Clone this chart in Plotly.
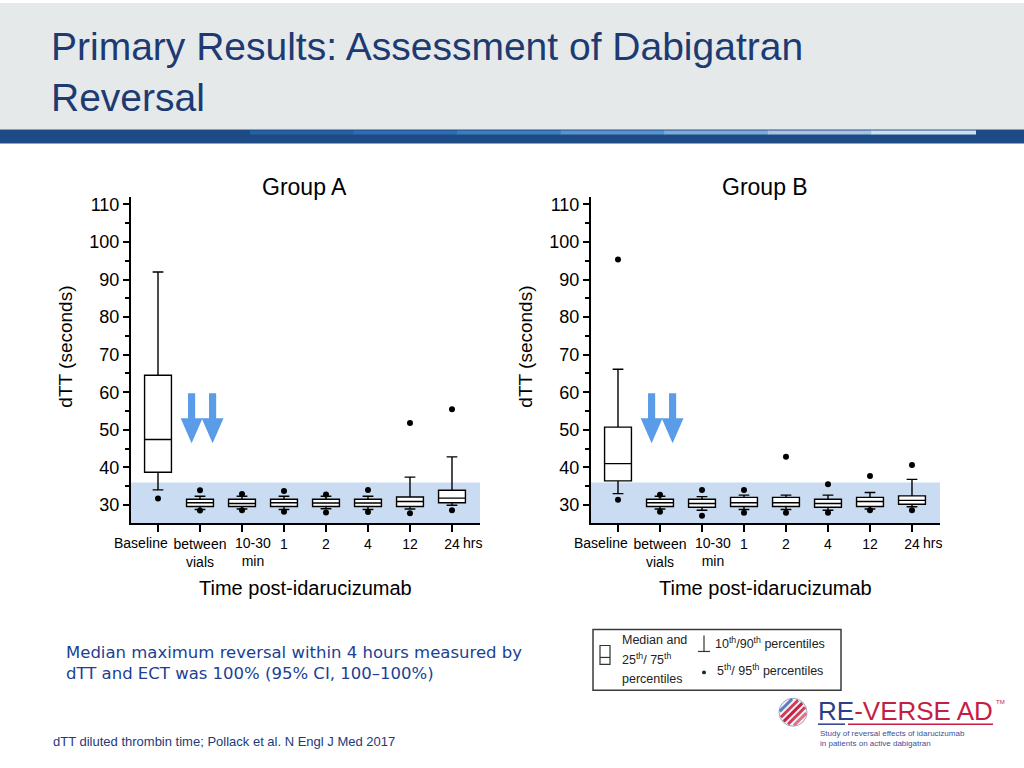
import plotly.graph_objects as go

W, H = 1024, 768

# categories along the time axis
CATEGORIES = ["Baseline", "between<br>vials", "10-30<br>min", "1", "2", "4", "12", "24"]
POS = list(range(len(CATEGORIES)))
# labels the source draws off-centre from their tick (pixel shift)
LABEL_SHIFT = {0: -17, 2: 11}

# Group A (dTT seconds)
A_P10 = [34.0, 28.8, 28.9, 28.8, 29.0, 28.8, 28.9, 29.9]
A_Q1 = [38.7, 29.6, 29.6, 29.6, 29.6, 29.6, 29.6, 30.6]
A_MED = [47.4, 30.6, 30.4, 30.6, 30.5, 30.5, 30.9, 31.8]
A_Q3 = [64.5, 31.5, 31.5, 31.5, 31.5, 31.5, 32.1, 33.9]
A_P90 = [92.0, 32.3, 32.3, 32.3, 32.3, 32.3, 37.4, 42.8]
A_P5 = [31.7, 28.5, 28.6, 28.2, 28.0, 28.1, 27.8, 28.6]
A_P95 = [112.7, 33.9, 32.9, 33.7, 32.8, 34.0, 51.8, 55.5]

# Group B (dTT seconds)
B_P10 = [33.0, 28.9, 28.6, 28.8, 28.8, 28.6, 28.9, 29.5]
B_Q1 = [36.4, 29.6, 29.4, 29.6, 29.6, 29.4, 29.6, 30.2]
B_MED = [41.0, 30.6, 30.4, 30.6, 30.6, 30.4, 30.9, 31.2]
B_Q3 = [50.7, 31.5, 31.5, 32.0, 32.0, 31.5, 32.0, 32.4]
B_P90 = [66.1, 32.3, 32.2, 32.6, 32.6, 32.6, 33.3, 36.8]
B_P5 = [31.4, 28.2, 27.1, 27.9, 27.9, 27.9, 28.6, 28.6]
B_P95 = [95.3, 32.7, 34.0, 34.0, 42.8, 35.5, 37.7, 40.6]

NORMAL_UPPER = 36  # shaded normal range upper limit
ARROW_X = [0.8, 1.3]

FONT = "Liberation Sans, Arial, sans-serif"
NAVY = "#1d3a72"
ARROW_BLUE = "#5b9ce8"
BAND = "#c9dcf1"


def px(x):
    return x / W


def py(y):
    return 1 - y / H


def label(text, x, y, size, color="black", family=FONT, xanchor="center", yanchor="middle", **kw):
    return dict(text=text, x=px(x), y=py(y), xref="paper", yref="paper",
                xanchor=xanchor, yanchor=yanchor, showarrow=False,
                font=dict(family=family, size=size, color=color), **kw)


fig = go.Figure()
shapes = []
annotations = []

groups = [
    ("Group A", "x", "y", (131, 480), A_P10, A_Q1, A_MED, A_Q3, A_P90, A_P5, A_P95),
    ("Group B", "x2", "y2", (591, 940), B_P10, B_Q1, B_MED, B_Q3, B_P90, B_P5, B_P95),
]

for name, xa, ya, (left, right), p10, q1, med, q3, p90, p5, p95 in groups:
    fig.add_trace(go.Box(
        x=POS, q1=q1, median=med, q3=q3, lowerfence=p10, upperfence=p90,
        xaxis=xa, yaxis=ya, width=0.64, whiskerwidth=0.4,
        fillcolor="white", line=dict(color="black", width=1.4),
        boxpoints=False, showlegend=False, hoverinfo="skip",
    ))
    fig.add_trace(go.Scatter(
        x=POS + POS, y=p95 + p5, mode="markers", xaxis=xa, yaxis=ya,
        marker=dict(color="black", size=6), cliponaxis=False,
        showlegend=False, hoverinfo="skip",
    ))
    # normal range band
    shapes.append(dict(
        type="rect", xref=f"{xa} domain", yref=ya, x0=0, x1=1, y0=25.2, y1=NORMAL_UPPER,
        fillcolor=BAND, line_width=0, layer="below",
    ))
    # reversal arrows
    for ax in ARROW_X:
        path = (f"M {ax - 0.085},59.7 L {ax + 0.085},59.7 L {ax + 0.085},53.1 "
                f"L {ax + 0.26},53.1 L {ax},46.4 L {ax - 0.26},53.1 L {ax - 0.085},53.1 Z")
        shapes.append(dict(type="path", xref=xa, yref=ya, path=path,
                           fillcolor=ARROW_BLUE, line_width=0))
    # off-centre category labels
    for i, shift in LABEL_SHIFT.items():
        annotations.append(dict(
            text=CATEGORIES[i], x=POS[i], y=py(532), xref=xa, yref="paper", xshift=shift,
            xanchor="center", yanchor="top", showarrow=False,
            font=dict(family=FONT, size=14, color="black"),
        ))
    centre = (left + right) / 2
    annotations += [
        label(name, centre - 1, 185, 23),
        label("Time post-idarucizumab", centre, 587, 20),
        label("dTT (seconds)", left - 65, 345, 19, textangle=-90),
        dict(text="hrs", x=7.21, y=py(542), xref=xa, yref="paper", xanchor="left",
             yanchor="middle", showarrow=False, font=dict(family=FONT, size=14, color="black")),
    ]

tick_text = ["" if i in LABEL_SHIFT else c for i, c in enumerate(CATEGORIES)]
xaxis_style = dict(
    range=[-0.643, 7.667], tickvals=POS, ticktext=tick_text, tickangle=0, showline=True,
    linecolor="black", linewidth=2, ticks="outside", ticklen=7, tickwidth=2,
    tickcolor="black", showgrid=False, zeroline=False,
    tickfont=dict(family=FONT, size=14, color="black"),
)
yaxis_style = dict(
    range=[25.2, 111.9], tickvals=list(range(30, 111, 10)), showline=True,
    linecolor="black", linewidth=2, ticks="outside", ticklen=6, tickwidth=2,
    tickcolor="black", showgrid=False, zeroline=False,
    minor=dict(dtick=5, tick0=0, ticks="outside", ticklen=4, tickwidth=1.5, tickcolor="black"),
    tickfont=dict(family=FONT, size=18, color="black"),
)

# header
shapes += [
    dict(type="rect", xref="paper", yref="paper", x0=0, x1=1, y0=py(127), y1=1,
         fillcolor="#e5e9ea", line_width=0, layer="below"),
    dict(type="rect", xref="paper", yref="paper", x0=0, x1=1, y0=py(141), y1=py(127),
         fillcolor="#1e4a86", line_width=0),
]
grad = ["#2460a3", "#2d6cb0", "#3b7dbe", "#5a93cb", "#7eaad6", "#a6c4e2", "#cddff0"]
seg = (975 - 250) / len(grad)
for i, col in enumerate(grad):
    shapes.append(dict(type="rect", xref="paper", yref="paper",
                       x0=px(250 + i * seg), x1=px(250 + (i + 1) * seg + 1),
                       y0=py(132), y1=py(128), fillcolor=col, line_width=0))

annotations.append(label(
    "Primary Results: Assessment of Dabigatran<br>Reversal", 49, 20, 39, color=NAVY,
    family="Liberation Sans Narrow, Arial Narrow, Liberation Sans",
    xanchor="left", yanchor="top", align="left",
))

# body text and footnote
annotations += [
    label("Median maximum reversal within 4 hours measured by<br>dTT and ECT was 100% (95% CI, 100–100%)",
          64, 640, 16.5, color="#203f93", family="DejaVu Sans, Verdana, sans-serif",
          xanchor="left", yanchor="top", align="left"),
    label("dTT diluted thrombin time; Pollack et al. N Engl J Med 2017", 51, 741, 13,
          color="#1d3a7a", xanchor="left"),
]

# legend box
shapes += [
    dict(type="rect", xref="paper", yref="paper", x0=px(593), x1=px(841), y0=py(690), y1=py(629),
         line=dict(color="#3a3a3a", width=1.5), fillcolor="white"),
    dict(type="rect", xref="paper", yref="paper", x0=px(600), x1=px(610), y0=py(664), y1=py(645),
         line=dict(color="#333", width=1.2)),
    dict(type="line", xref="paper", yref="paper", x0=px(600), x1=px(610), y0=py(657), y1=py(657),
         line=dict(color="#333", width=1.2)),
    dict(type="line", xref="paper", yref="paper", x0=px(704), x1=px(704), y0=py(651), y1=py(635),
         line=dict(color="#333", width=1.2)),
    dict(type="line", xref="paper", yref="paper", x0=px(698), x1=px(710), y0=py(651), y1=py(651),
         line=dict(color="#333", width=1.2)),
    dict(type="circle", xref="paper", yref="paper", x0=px(702), x1=px(706), y0=py(674), y1=py(670),
         fillcolor="#222", line_width=0),
]
for txt, x, y in [
    ("Median and", 620, 639),
    ("25<sup>th</sup>/ 75<sup>th</sup>", 620, 659),
    ("percentiles", 620, 679),
    ("10<sup>th</sup>/90<sup>th</sup> percentiles", 713, 643),
    ("5<sup>th</sup>/ 95<sup>th</sup> percentiles", 715, 670),
]:
    annotations.append(label(txt, x, y, 12.5, color="#222", xanchor="left"))

# RE-VERSE AD logo
cx, cy, r = 793, 712, 14
shapes.append(dict(type="circle", xref="paper", yref="paper", x0=px(cx - r), x1=px(cx + r),
                   y0=py(cy + r), y1=py(cy - r), fillcolor="#f3f3f6", line=dict(color="#9aa6c8", width=1)))
d = (0.7071, -0.7071)
n = (0.7071, 0.7071)
for t, col in [(-10, "#5b7fbf"), (-5, "#d23a55"), (0, "#c81f45"), (5, "#d23a55"), (10, "#e07088")]:
    half = (r * r - t * t) ** 0.5 - 1
    x0 = cx + t * n[0] - half * d[0]
    y0 = cy + t * n[1] - half * d[1]
    x1 = cx + t * n[0] + half * d[0]
    y1 = cy + t * n[1] + half * d[1]
    shapes.append(dict(type="line", xref="paper", yref="paper", x0=px(x0), x1=px(x1),
                       y0=py(y0), y1=py(y1), line=dict(color=col, width=3)))
shapes += [
    dict(type="line", xref="paper", yref="paper", x0=px(818), x1=px(845), y0=py(724), y1=py(724),
         line=dict(color="#2a3e8a", width=1.5)),
    dict(type="line", xref="paper", yref="paper", x0=px(848), x1=px(993), y0=py(724), y1=py(724),
         line=dict(color="#c41e45", width=1.5)),
]
annotations += [
    label("<span style='color:#2a3e8a'>RE</span>-VERSE AD", 816, 711, 26,
          color="#c41e45", xanchor="left"),
    label("TM", 994, 702, 6, color="#c41e45", xanchor="left"),
    label("Study of reversal effects of idarucizumab<br>in patients on active dabigatran",
          818, 727, 8, color="#3d4f9a", xanchor="left", yanchor="top", align="left"),
]

fig.update_layout(
    width=W, height=H, margin=dict(l=0, r=0, t=0, b=0),
    paper_bgcolor="white", plot_bgcolor="white", showlegend=False,
    modebar=dict(bgcolor="rgba(0,0,0,0)", color="rgba(0,0,0,0)", activecolor="rgba(0,0,0,0)"),
    xaxis=dict(domain=[px(131), px(480)], anchor="y", **xaxis_style),
    yaxis=dict(domain=[py(522), py(195)], anchor="x", **yaxis_style),
    xaxis2=dict(domain=[px(591), px(940)], anchor="y2", **xaxis_style),
    yaxis2=dict(domain=[py(522), py(195)], anchor="x2", **yaxis_style),
    shapes=shapes, annotations=annotations,
)

fig.write_html("out.html", config={"displaylogo": False}, post_script=(
    "document.body.style.margin = '0'; document.body.style.overflow = 'hidden';"
))
